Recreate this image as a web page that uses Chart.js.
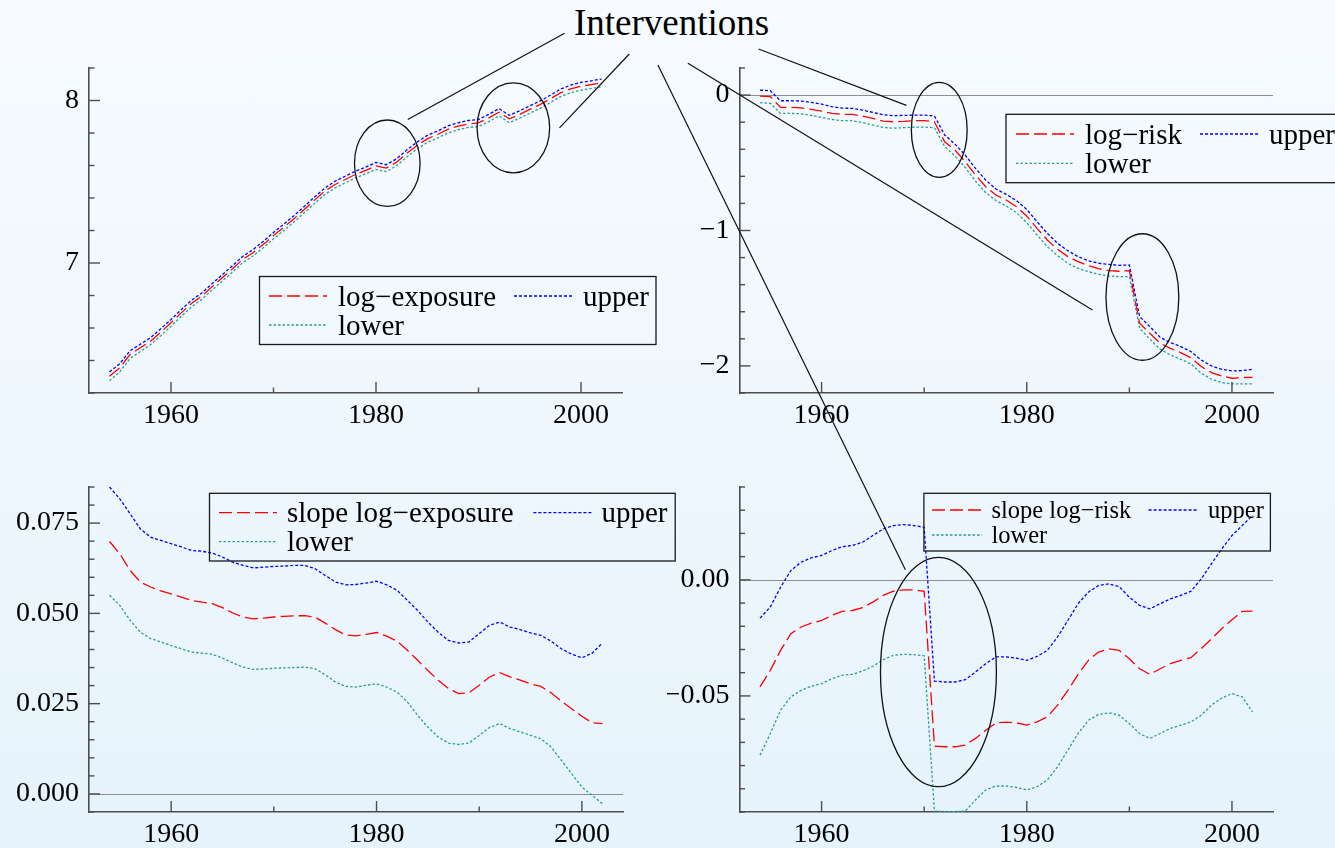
<!DOCTYPE html>
<html><head><meta charset="utf-8">
<script src="https://cdn.jsdelivr.net/npm/chart.js@4.4.1/dist/chart.umd.min.js"></script>
<style>
html,body{margin:0;padding:0;}
body{width:1335px;height:848px;overflow:hidden;position:relative;background:linear-gradient(to bottom,#f7fbff 0%,#e6f3fc 100%);}
canvas{position:absolute;}
#title{position:absolute;left:671.6px;top:4px;transform:translateX(-50%);font-family:'Liberation Serif','Times New Roman',serif;font-size:37px;line-height:37px;color:#000;white-space:nowrap;}
</style></head><body>
<div id="title">Interventions</div>
<canvas id="c1" width="667" height="424" style="left:0;top:0"></canvas>
<canvas id="c2" width="668" height="424" style="left:667px;top:0"></canvas>
<canvas id="c3" width="667" height="424" style="left:0;top:424px"></canvas>
<canvas id="c4" width="668" height="424" style="left:667px;top:424px"></canvas>
<canvas id="ov" width="1335" height="848" style="left:0;top:0;pointer-events:none"></canvas>
<script>
// ---------- data ----------
const years = [1954,1955,1956,1957,1958,1959,1960,1961,1962,1963,1964,1965,1966,1967,1968,1969,1970,1971,1972,1973,1974,1975,1976,1977,1978,1979,1980,1981,1982,1983,1984,1985,1986,1987,1988,1989,1990,1991,1992,1993,1994,1995,1996,1997,1998,1999,2000,2001,2002];

const seriesLabels1 = ['log\u2212exposure','upper','lower'];
const logExposure = [6.303,6.355,6.437,6.478,6.519,6.574,6.632,6.693,6.751,6.796,
 6.853,6.909,6.964,7.022,7.063,7.114,7.169,7.220,7.272,7.329,
 7.387,7.442,7.483,7.514,7.545,7.570,7.598,7.584,7.620,7.674,
 7.723,7.764,7.791,7.822,7.842,7.856,7.862,7.893,7.928,7.887,
 7.914,7.945,7.975,8.010,8.047,8.072,8.088,8.098,8.109];
const logExposureUpper = [6.330,6.380,6.460,6.500,6.540,6.595,6.652,6.713,6.771,6.815,
 6.872,6.928,6.983,7.041,7.082,7.133,7.188,7.239,7.291,7.348,
 7.406,7.461,7.503,7.534,7.565,7.590,7.619,7.605,7.641,7.695,
 7.744,7.785,7.812,7.843,7.863,7.877,7.883,7.915,7.950,7.909,
 7.936,7.967,7.997,8.032,8.070,8.095,8.111,8.121,8.132];
const logExposureLower = [6.275,6.330,6.412,6.455,6.497,6.552,6.611,6.672,6.730,6.776,
 6.833,6.889,6.944,7.002,7.043,7.094,7.149,7.200,7.252,7.309,
 7.367,7.421,7.462,7.493,7.524,7.549,7.576,7.562,7.598,7.652,
 7.701,7.742,7.769,7.800,7.820,7.834,7.840,7.870,7.905,7.864,
 7.891,7.922,7.952,7.987,8.024,8.048,8.064,8.074,8.085];

const seriesLabels2 = ['log\u2212risk','upper','lower'];
const logRisk = [-0.007,-0.012,-0.091,-0.091,-0.094,-0.106,-0.118,-0.135,-0.143,-0.143,
 -0.155,-0.172,-0.192,-0.197,-0.194,-0.189,-0.189,-0.197,-0.345,-0.406,
 -0.492,-0.590,-0.677,-0.738,-0.775,-0.824,-0.893,-0.984,-1.070,-1.139,
 -1.193,-1.230,-1.260,-1.282,-1.296,-1.301,-1.296,-1.685,-1.759,-1.833,
 -1.870,-1.902,-1.939,-2.005,-2.049,-2.074,-2.091,-2.086,-2.084];
const logRiskUpper = [0.037,0.032,-0.042,-0.042,-0.044,-0.054,-0.066,-0.086,-0.096,-0.098,
 -0.111,-0.128,-0.145,-0.152,-0.150,-0.148,-0.148,-0.155,-0.295,-0.362,
 -0.443,-0.541,-0.627,-0.694,-0.733,-0.780,-0.844,-0.935,-1.021,-1.095,
 -1.149,-1.193,-1.223,-1.242,-1.250,-1.257,-1.255,-1.636,-1.710,-1.789,
 -1.828,-1.857,-1.894,-1.956,-2.000,-2.025,-2.037,-2.035,-2.025];
const logRiskLower = [-0.056,-0.061,-0.135,-0.135,-0.138,-0.150,-0.165,-0.180,-0.189,-0.189,
 -0.204,-0.221,-0.239,-0.244,-0.241,-0.236,-0.236,-0.241,-0.381,-0.450,
 -0.534,-0.635,-0.721,-0.780,-0.819,-0.868,-0.942,-1.033,-1.119,-1.186,
 -1.242,-1.279,-1.304,-1.323,-1.336,-1.341,-1.341,-1.722,-1.803,-1.877,
 -1.919,-1.951,-1.985,-2.054,-2.098,-2.123,-2.133,-2.133,-2.133];

const seriesLabels3 = ['slope log\u2212exposure','upper','lower'];
const slopeExposure = [0.0699,0.0665,0.0619,0.0587,0.0573,0.0562,0.0554,0.0545,0.0536,0.0531,
 0.0527,0.0516,0.0501,0.0490,0.0485,0.0487,0.0490,0.0492,0.0493,0.0494,
 0.0490,0.0473,0.0455,0.0440,0.0438,0.0442,0.0447,0.0437,0.0423,0.0398,
 0.0370,0.0342,0.0315,0.0292,0.0278,0.0280,0.0301,0.0324,0.0336,0.0324,
 0.0315,0.0305,0.0298,0.0280,0.0257,0.0236,0.0215,0.0197,0.0195];
const slopeExposureUpper = [0.0850,0.0817,0.0776,0.0734,0.0711,0.0702,0.0693,0.0684,0.0674,0.0672,
 0.0667,0.0656,0.0642,0.0633,0.0626,0.0628,0.0630,0.0631,0.0633,0.0633,
 0.0624,0.0605,0.0587,0.0579,0.0580,0.0584,0.0589,0.0579,0.0564,0.0536,
 0.0508,0.0476,0.0448,0.0425,0.0418,0.0421,0.0444,0.0467,0.0476,0.0462,
 0.0455,0.0446,0.0439,0.0423,0.0402,0.0387,0.0377,0.0390,0.0418];
const slopeExposureLower = [0.0550,0.0522,0.0481,0.0448,0.0430,0.0421,0.0411,0.0402,0.0393,0.0390,
 0.0387,0.0376,0.0363,0.0351,0.0345,0.0346,0.0348,0.0349,0.0350,0.0351,
 0.0347,0.0330,0.0310,0.0298,0.0296,0.0301,0.0305,0.0296,0.0282,0.0255,
 0.0218,0.0185,0.0158,0.0141,0.0137,0.0141,0.0162,0.0184,0.0195,0.0181,
 0.0172,0.0162,0.0153,0.0130,0.0093,0.0056,0.0019,-0.0004,-0.0027];

const seriesLabels4 = ['slope log\u2212risk','upper','lower'];
const slopeRisk = [-0.0461,-0.0390,-0.0304,-0.0232,-0.0203,-0.0186,-0.0175,-0.0153,-0.0136,-0.0132,
 -0.0120,-0.0096,-0.0067,-0.0049,-0.0043,-0.0043,-0.0049,-0.0716,-0.0719,-0.0719,
 -0.0712,-0.0683,-0.0648,-0.0616,-0.0613,-0.0616,-0.0626,-0.0612,-0.0590,-0.0540,
 -0.0476,-0.0407,-0.0347,-0.0311,-0.0297,-0.0304,-0.0340,-0.0383,-0.0407,-0.0383,
 -0.0361,-0.0347,-0.0335,-0.0297,-0.0254,-0.0211,-0.0172,-0.0136,-0.0135];
const slopeRiskUpper = [-0.0165,-0.0117,-0.0032,0.0040,0.0076,0.0095,0.0105,0.0126,0.0143,0.0148,
 0.0162,0.0191,0.0219,0.0234,0.0238,0.0234,0.0226,-0.0436,-0.0440,-0.0440,
 -0.0430,-0.0397,-0.0361,-0.0332,-0.0332,-0.0337,-0.0347,-0.0330,-0.0304,-0.0246,
 -0.0175,-0.0103,-0.0053,-0.0024,-0.0017,-0.0029,-0.0075,-0.0110,-0.0125,-0.0103,
 -0.0082,-0.0067,-0.0049,0.0004,0.0069,0.0133,0.0191,0.0234,0.0277];
const slopeRiskLower = [-0.0755,-0.0662,-0.0562,-0.0504,-0.0476,-0.0458,-0.0447,-0.0426,-0.0411,-0.0407,
 -0.0393,-0.0372,-0.0344,-0.0325,-0.0321,-0.0322,-0.0327,-0.0996,-0.0998,-0.0998,
 -0.0996,-0.0948,-0.0905,-0.0888,-0.0888,-0.0894,-0.0905,-0.0891,-0.0862,-0.0805,
 -0.0734,-0.0662,-0.0605,-0.0580,-0.0573,-0.0583,-0.0619,-0.0662,-0.0683,-0.0662,
 -0.0640,-0.0626,-0.0612,-0.0583,-0.0540,-0.0509,-0.0490,-0.0504,-0.0569];

// ticks
const xMajorTicks = [1960,1980,2000];
const xMajorLabels = ['1960','1980','2000'];
const xMinorTicks = [1970,1990];

const y1Major = [7,8];
const y1Labels = ['7','8'];
const y1Minor = [6.2,6.4,6.6,6.8,7.2,7.4,7.6,7.8,8.2];

const y2Major = [-2,-1,0];
const y2Labels = ['\u22122','\u22121','0'];
const y2Minor = [-2.2,-1.8,-1.6,-1.4,-1.2,-0.8,-0.6,-0.4,-0.2,0.2];

const y3Major = [0,0.025,0.05,0.075];
const y3Labels = ['0.000','0.025','0.050','0.075'];
const y3Minor = [-0.005,0.005,0.01,0.015,0.02,0.03,0.035,0.04,0.045,0.055,0.06,0.065,0.07,0.08,0.085];

const y4Major = [-0.05,0];
const y4Labels = ['\u22120.05','0.00'];
const y4Minor = [-0.1,-0.09,-0.08,-0.07,-0.06,-0.04,-0.03,-0.02,-0.01,0.01,0.02,0.03,0.04];

// ---------- styles ----------
const RED = '#ff0000', BLUE = '#0000ff', TEAL = '#2a9d98';
const AXIS = '#4d4d4d';
const FONT = "'Liberation Serif','Times New Roman',serif";

const deco = {
  id: 'deco',
  beforeDatasetsDraw(chart, args, o) {
    if (!o.zero) return;
    const {ctx, chartArea: a, scales: {y}} = chart;
    const py = Math.round(y.getPixelForValue(0)) + 0.5;
    ctx.save();
    ctx.strokeStyle = '#8f8f8f'; ctx.lineWidth = 1.2;
    ctx.beginPath(); ctx.moveTo(a.left, py); ctx.lineTo(a.right, py); ctx.stroke();
    ctx.restore();
  },
  afterDraw(chart, args, o) {
    const {ctx, chartArea: a, scales: {x, y}} = chart;
    ctx.save();
    ctx.strokeStyle = AXIS; ctx.lineWidth = 1.4;
    const seg = (x1, y1, x2, y2) => { ctx.beginPath(); ctx.moveTo(x1, y1); ctx.lineTo(x2, y2); ctx.stroke(); };
    o.xMajor.forEach(v => { const p = x.getPixelForValue(v); seg(p, a.bottom, p, a.bottom - 11); });
    o.xMinor.forEach(v => { const p = x.getPixelForValue(v); seg(p, a.bottom, p, a.bottom - 5.5); });
    o.yMajor.forEach(v => { const p = y.getPixelForValue(v); seg(a.left, p, a.left + 11, p); });
    o.yMinor.forEach(v => { const p = y.getPixelForValue(v); seg(a.left, p, a.left + 5.5, p); });
    ctx.restore();
  }
};

function series(vals) { return years.map((yr, i) => ({x: yr, y: vals[i]})); }

function build(id, cfg) {
  return new Chart(document.getElementById(id), {
    type: 'line',
    data: { datasets: [
      {label: cfg.labels[0], data: series(cfg.mid), borderColor: RED, borderDash: [13,5], borderWidth: 1.3},
      {label: cfg.labels[1], data: series(cfg.up), borderColor: BLUE, borderDash: [3,2], borderWidth: 1.3},
      {label: cfg.labels[2], data: series(cfg.lo), borderColor: TEAL, borderDash: [2.5,2], borderWidth: 1.3}
    ]},
    options: {
      responsive: false, animation: false, devicePixelRatio: 1,
      layout: {padding: {top: cfg.padTop, right: cfg.padRight, bottom: 0, left: 0}},
      elements: {point: {radius: 0}, line: {tension: 0, fill: false}},
      plugins: {
        legend: {display: false}, tooltip: {enabled: false},
        deco: {zero: cfg.zero, xMajor: xMajorTicks, xMinor: xMinorTicks, yMajor: cfg.yMajor, yMinor: cfg.yMinor}
      },
      scales: {
        x: {
          type: 'linear', min: 1952, max: 2004,
          afterFit: s => { s.height = cfg.xH; },
          afterBuildTicks: s => { s.ticks = xMajorTicks.map(v => ({value: v})); },
          grid: {display: false, drawTicks: false},
          border: {display: true, color: AXIS, width: 1.6},
          ticks: {font: {family: FONT, size: 28}, color: '#000', padding: 6, maxRotation: 0, autoSkip: false,
                  callback: (v, i) => xMajorLabels[i]}
        },
        y: {
          type: 'linear', min: cfg.yMin, max: cfg.yMax,
          afterFit: s => { s.width = cfg.yW; },
          afterBuildTicks: s => { s.ticks = cfg.yMajor.map(v => ({value: v})); },
          grid: {display: false, drawTicks: false},
          border: {display: true, color: AXIS, width: 1.6},
          ticks: {font: {family: FONT, size: 28}, color: '#000', padding: 10, autoSkip: false,
                  callback: (v, i) => cfg.yLabels[i]}
        }
      }
    },
    plugins: [deco]
  });
}

const charts = [
  build('c1', {labels: seriesLabels1, mid: logExposure, up: logExposureUpper, lo: logExposureLower,
    yMin: 6.2, yMax: 8.2, yMajor: y1Major, yLabels: y1Labels, yMinor: y1Minor, zero: false,
    padTop: 68, padRight: 45, yW: 89, xH: 31}),
  build('c2', {labels: seriesLabels2, mid: logRisk, up: logRiskUpper, lo: logRiskLower,
    yMin: -2.2, yMax: 0.2, yMajor: y2Major, yLabels: y2Labels, yMinor: y2Minor, zero: true,
    padTop: 68, padRight: 62, yW: 72.5, xH: 31}),
  build('c3', {labels: seriesLabels3, mid: slopeExposure, up: slopeExposureUpper, lo: slopeExposureLower,
    yMin: -0.005, yMax: 0.085, yMajor: y3Major, yLabels: y3Labels, yMinor: y3Minor, zero: true,
    padTop: 63, padRight: 44, yW: 89, xH: 36}),
  build('c4', {labels: seriesLabels4, mid: slopeRisk, up: slopeRiskUpper, lo: slopeRiskLower,
    yMin: -0.1, yMax: 0.04, yMajor: y4Major, yLabels: y4Labels, yMinor: y4Minor, zero: true,
    padTop: 63, padRight: 62, yW: 72.5, xH: 36})
];
const offsets = [[0,0],[667,0],[0,424],[667,424]];

// ---------- annotations (overlay) ----------
const legends = [
  {chart: 0, box: [259.5, 276.5, 396.5, 68], font: 29, sample: 58, textGap: 69,
   items: [{ds: 0, x: 269, y: 296}, {ds: 1, x: 514, y: 296}, {ds: 2, x: 269, y: 325}]},
  {chart: 1, box: [1006, 114.3, 335, 68.4], font: 29, sample: 58, textGap: 69,
   items: [{ds: 0, x: 1016, y: 134}, {ds: 1, x: 1200, y: 134}, {ds: 2, x: 1016, y: 163.3}]},
  {chart: 2, box: [209.5, 493.3, 465.7, 67.7], font: 29, sample: 58, textGap: 68,
   items: [{ds: 0, x: 219, y: 512.7}, {ds: 1, x: 533.4, y: 512.7}, {ds: 2, x: 219, y: 541.7}]},
  {chart: 3, box: [923.9, 493.3, 346.5, 57.7], font: 24.5, sample: 50, textGap: 59.5,
   items: [{ds: 0, x: 932, y: 510}, {ds: 1, x: 1148.6, y: 510}, {ds: 2, x: 932, y: 535}]}
];
const ellipses = [
  {chart: 0, x: 1981.1, y: 7.614, rx: 3.2, ry: 0.266},
  {chart: 0, x: 1993.4, y: 7.832, rx: 3.54, ry: 0.277},
  {chart: 1, x: 1971.47, y: -0.257, rx: 2.72, ry: 0.351},
  {chart: 1, x: 1991.27, y: -1.491, rx: 3.55, ry: 0.467},
  {chart: 3, x: 1971.39, y: -0.0397, rx: 5.65, ry: 0.0494}
];
const pointers = [
  {from: [564.6, 33.3], chart: 0, x: 1983.1, y: 7.883},
  {from: [629.3, 54], chart: 0, x: 1997.9, y: 7.832},
  {from: [657.9, 65], chart: 3, x: 1968.17, y: 0.0044},
  {from: [687.9, 63.3], chart: 1, x: 1986.4, y: -1.587},
  {from: [758.6, 49], chart: 1, x: 1968.27, y: -0.076}
];

function toPage(ci, xv, yv) {
  const c = charts[ci];
  return [offsets[ci][0] + c.scales.x.getPixelForValue(xv), offsets[ci][1] + c.scales.y.getPixelForValue(yv)];
}

function drawOverlay() {
  const ctx = document.getElementById('ov').getContext('2d');
  ctx.clearRect(0, 0, 1335, 848);
  // legends
  legends.forEach(L => {
    const ds = charts[L.chart].data.datasets;
    ctx.save();
    ctx.strokeStyle = '#1a1a1a'; ctx.lineWidth = 1.3;
    ctx.strokeRect(L.box[0], L.box[1], L.box[2], L.box[3]);
    ctx.font = L.font + 'px ' + FONT;
    ctx.fillStyle = '#000'; ctx.textBaseline = 'alphabetic';
    L.items.forEach(it => {
      const d = ds[it.ds];
      ctx.save();
      ctx.strokeStyle = d.borderColor; ctx.lineWidth = d.borderWidth; ctx.setLineDash(d.borderDash);
      ctx.beginPath(); ctx.moveTo(it.x, it.y); ctx.lineTo(it.x + L.sample, it.y); ctx.stroke();
      ctx.restore();
      ctx.fillText(d.label, it.x + L.textGap, it.y + L.font * 0.33);
    });
    ctx.restore();
  });
  // ellipses
  ctx.save();
  ctx.strokeStyle = '#111'; ctx.lineWidth = 1.3;
  ellipses.forEach(e => {
    const c = toPage(e.chart, e.x, e.y);
    const ex = toPage(e.chart, e.x + e.rx, e.y);
    const ey = toPage(e.chart, e.x, e.y + e.ry);
    ctx.beginPath();
    ctx.ellipse(c[0], c[1], Math.abs(ex[0] - c[0]), Math.abs(c[1] - ey[1]), 0, 0, Math.PI * 2);
    ctx.stroke();
  });
  ctx.lineWidth = 1.2;
  pointers.forEach(p => {
    const t = toPage(p.chart, p.x, p.y);
    ctx.beginPath(); ctx.moveTo(p.from[0], p.from[1]); ctx.lineTo(t[0], t[1]); ctx.stroke();
  });
  ctx.restore();
}
drawOverlay();
</script>
</body></html>
